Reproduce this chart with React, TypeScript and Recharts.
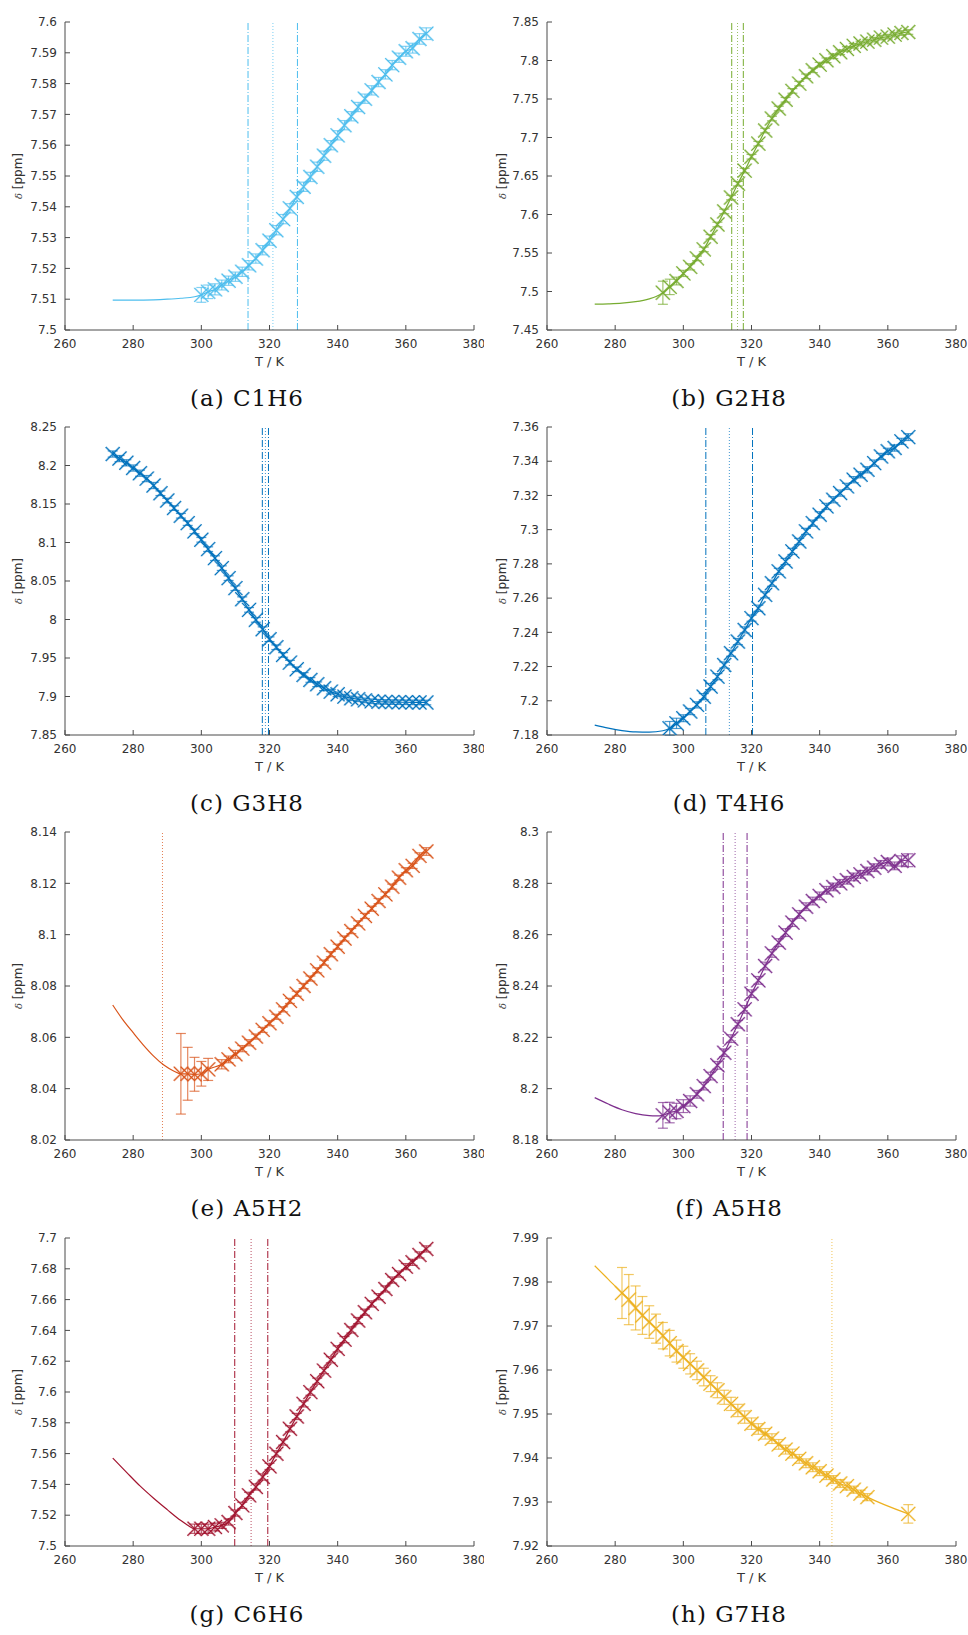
import React from 'react';
import { ComposedChart, Line, Scatter, XAxis, YAxis, ErrorBar, ReferenceLine } from 'recharts';

const xTicks = [260, 280, 300, 320, 340, 360, 380];

// (a) C1H6
const c1h6Temps = [300, 302, 304, 306, 308, 310, 312, 314, 316, 318, 320, 322, 324, 326, 328, 330, 332, 334, 336, 338, 340, 342, 344, 346, 348, 350, 352, 354, 356, 358, 360, 362, 364, 366];
const c1h6Shift = [7.5114, 7.5124, 7.5132, 7.5146, 7.516, 7.5173, 7.5189, 7.521, 7.5232, 7.5259, 7.529, 7.5324, 7.536, 7.5395, 7.5432, 7.5465, 7.5497, 7.553, 7.5566, 7.56, 7.5632, 7.5665, 7.5694, 7.5724, 7.5751, 7.5778, 7.5805, 7.583, 7.586, 7.5884, 7.5905, 7.5915, 7.5945, 7.5962];
const c1h6Err = [0.0024, 0.0022, 0.0018, 0.0016, 0.0015, 0.0015, 0.0015, 0.0015, 0.0015, 0.0015, 0.0015, 0.0015, 0.0015, 0.0015, 0.0015, 0.0015, 0.0015, 0.0015, 0.0015, 0.0015, 0.0015, 0.0015, 0.0015, 0.0015, 0.0015, 0.0015, 0.0015, 0.0015, 0.0015, 0.0015, 0.0016, 0.0016, 0.0017, 0.0019];
const c1h6FitTemps = [274, 280, 286, 290, 294, 298];
const c1h6FitShift = [7.5097, 7.5097, 7.5098, 7.51, 7.5103, 7.5108];
const c1h6YTicks = [7.5, 7.51, 7.52, 7.53, 7.54, 7.55, 7.56, 7.57, 7.58, 7.59, 7.6];
const c1h6Tm = [313.7, 321.0, 328.2];

// (b) G2H8
const g2h8Temps = [294, 296, 298, 300, 302, 304, 306, 308, 310, 312, 314, 316, 318, 320, 322, 324, 326, 328, 330, 332, 334, 336, 338, 340, 342, 344, 346, 348, 350, 352, 354, 356, 358, 360, 362, 364, 366];
const g2h8Shift = [7.4984, 7.506, 7.5136, 7.5235, 7.532, 7.543, 7.5547, 7.571, 7.587, 7.604, 7.622, 7.64, 7.657, 7.675, 7.692, 7.709, 7.7246, 7.7376, 7.749, 7.7605, 7.77, 7.7795, 7.7873, 7.7946, 7.8003, 7.8055, 7.8107, 7.815, 7.819, 7.822, 7.8245, 7.827, 7.8297, 7.831, 7.8336, 7.8357, 7.837];
const g2h8Err = [0.015, 0.01, 0.005, 0.004, 0.004, 0.003, 0.003, 0.003, 0.003, 0.003, 0.003, 0.003, 0.003, 0.003, 0.003, 0.003, 0.003, 0.003, 0.003, 0.003, 0.003, 0.003, 0.003, 0.003, 0.003, 0.003, 0.003, 0.003, 0.003, 0.003, 0.003, 0.003, 0.003, 0.003, 0.003, 0.003, 0.003];
const g2h8FitTemps = [274, 278, 282, 286, 290, 292];
const g2h8FitShift = [7.4837, 7.484, 7.4848, 7.4868, 7.4905, 7.4935];
const g2h8YTicks = [7.45, 7.5, 7.55, 7.6, 7.65, 7.7, 7.75, 7.8, 7.85];
const g2h8Tm = [314.2, 315.9, 317.6];

// (c) G3H8
const g3h8Temps = [274, 276, 278, 280, 282, 284, 286, 288, 290, 292, 294, 296, 298, 300, 302, 304, 306, 308, 310, 312, 314, 316, 318, 320, 322, 324, 326, 328, 330, 332, 334, 336, 338, 340, 342, 344, 346, 348, 350, 352, 354, 356, 358, 360, 362, 364, 366];
const g3h8Shift = [8.2149, 8.209, 8.2035, 8.1967, 8.19, 8.183, 8.174, 8.164, 8.1545, 8.1447, 8.1347, 8.1252, 8.1144, 8.1035, 8.0914, 8.0797, 8.0667, 8.0537, 8.0407, 8.0264, 8.0125, 7.9995, 7.9874, 7.9744, 7.964, 7.954, 7.944, 7.9354, 7.928, 7.9215, 7.9159, 7.9107, 7.9063, 7.9029, 7.8998, 7.8977, 7.8964, 7.895, 7.8938, 7.8932, 7.8929, 7.8927, 7.8926, 7.8925, 7.8924, 7.8923, 7.8922];
const g3h8Err = [0.004, 0.004, 0.004, 0.004, 0.004, 0.004, 0.004, 0.003, 0.003, 0.003, 0.003, 0.003, 0.003, 0.003, 0.003, 0.003, 0.003, 0.003, 0.003, 0.003, 0.003, 0.003, 0.003, 0.003, 0.003, 0.003, 0.003, 0.003, 0.003, 0.003, 0.003, 0.003, 0.003, 0.003, 0.003, 0.003, 0.003, 0.003, 0.003, 0.003, 0.003, 0.003, 0.003, 0.003, 0.003, 0.003, 0.003];
const g3h8FitTemps: number[] = [];
const g3h8FitShift: number[] = [];
const g3h8YTicks = [7.85, 7.9, 7.95, 8, 8.05, 8.1, 8.15, 8.2, 8.25];
const g3h8Tm = [317.9, 318.8, 319.7];

// (d) T4H6
const t4h6Temps = [296, 298, 300, 302, 304, 306, 308, 310, 312, 314, 316, 318, 320, 322, 324, 326, 328, 330, 332, 334, 336, 338, 340, 342, 344, 346, 348, 350, 352, 354, 356, 358, 360, 362, 364, 366];
const t4h6Shift = [7.1839, 7.1868, 7.1898, 7.1937, 7.1976, 7.2024, 7.2083, 7.2141, 7.2209, 7.2278, 7.2346, 7.2414, 7.2483, 7.2541, 7.2619, 7.2687, 7.2756, 7.2814, 7.2873, 7.2931, 7.299, 7.3038, 7.3087, 7.3136, 7.3175, 7.3214, 7.3253, 7.3292, 7.3321, 7.335, 7.3389, 7.3428, 7.3458, 7.3477, 7.3516, 7.3541];
const t4h6Err = [0.004, 0.003, 0.002, 0.0018, 0.0018, 0.0018, 0.0018, 0.0018, 0.0018, 0.0018, 0.0018, 0.0018, 0.0018, 0.0018, 0.0018, 0.0018, 0.0018, 0.0018, 0.0018, 0.0018, 0.0018, 0.0018, 0.0018, 0.0018, 0.0018, 0.0018, 0.0018, 0.0018, 0.0018, 0.0018, 0.0018, 0.0018, 0.0018, 0.0018, 0.0018, 0.002];
const t4h6FitTemps = [274, 278, 282, 286, 290, 294];
const t4h6FitShift = [7.1858, 7.184, 7.1826, 7.1818, 7.1817, 7.1825];
const t4h6YTicks = [7.18, 7.2, 7.22, 7.24, 7.26, 7.28, 7.3, 7.32, 7.34, 7.36];
const t4h6Tm = [306.6, 313.5, 320.3];

// (e) A5H2
const a5h2Temps = [294, 296, 298, 300, 302, 306, 308, 310, 312, 314, 316, 318, 320, 322, 324, 326, 328, 330, 332, 334, 336, 338, 340, 342, 344, 346, 348, 350, 352, 354, 356, 358, 360, 362, 364, 366];
const a5h2Shift = [8.0458, 8.0458, 8.0456, 8.0458, 8.0475, 8.0495, 8.0514, 8.0534, 8.0556, 8.0579, 8.0603, 8.0629, 8.0655, 8.068, 8.0709, 8.0742, 8.077, 8.08, 8.0829, 8.0861, 8.0891, 8.0924, 8.0953, 8.0985, 8.1014, 8.1044, 8.1073, 8.1101, 8.1131, 8.1157, 8.1187, 8.1222, 8.1251, 8.1268, 8.1307, 8.1324];
const a5h2Err = [0.0157, 0.0103, 0.0066, 0.0048, 0.0043, 0.0018, 0.0013, 0.0015, 0.0012, 0.0012, 0.001, 0.001, 0.001, 0.001, 0.001, 0.001, 0.001, 0.001, 0.001, 0.001, 0.001, 0.001, 0.001, 0.001, 0.001, 0.001, 0.001, 0.001, 0.001, 0.001, 0.001, 0.001, 0.001, 0.001, 0.0012, 0.0015];
const a5h2FitTemps = [274, 277, 280, 283, 286, 289, 292];
const a5h2FitShift = [8.0726, 8.0668, 8.0618, 8.057, 8.0527, 8.0492, 8.0468];
const a5h2YTicks = [8.02, 8.04, 8.06, 8.08, 8.1, 8.12, 8.14];
const a5h2Tm = [288.6];

// (f) A5H8
const a5h8Temps = [294, 296, 298, 300, 302, 304, 306, 308, 310, 312, 314, 316, 318, 320, 322, 324, 326, 328, 330, 332, 334, 336, 338, 340, 342, 344, 346, 348, 350, 352, 354, 356, 358, 360, 362, 364, 366];
const a5h8Shift = [8.1896, 8.1907, 8.1913, 8.1932, 8.1952, 8.1978, 8.201, 8.2049, 8.2091, 8.214, 8.2195, 8.2251, 8.2309, 8.237, 8.2422, 8.2478, 8.2527, 8.2569, 8.2608, 8.2647, 8.2679, 8.2709, 8.2731, 8.2751, 8.2773, 8.2786, 8.28, 8.2812, 8.2825, 8.2835, 8.2848, 8.2861, 8.2874, 8.2883, 8.2868, 8.2887, 8.289];
const a5h8Err = [0.005, 0.004, 0.003, 0.0025, 0.002, 0.0015, 0.0015, 0.0015, 0.0015, 0.0015, 0.0015, 0.0015, 0.0015, 0.0015, 0.0015, 0.0015, 0.0015, 0.0015, 0.0015, 0.0015, 0.0015, 0.0015, 0.0015, 0.0015, 0.0015, 0.0015, 0.0015, 0.0015, 0.0015, 0.0015, 0.0015, 0.0015, 0.0015, 0.0015, 0.0015, 0.002, 0.0025];
const a5h8FitTemps = [274, 278, 282, 286, 290, 292];
const a5h8FitShift = [8.1965, 8.194, 8.1918, 8.1903, 8.1895, 8.1894];
const a5h8YTicks = [8.18, 8.2, 8.22, 8.24, 8.26, 8.28, 8.3];
const a5h8Tm = [311.7, 315.2, 318.7];

// (g) C6H6
const c6h6Temps = [298, 300, 302, 304, 306, 308, 310, 312, 314, 316, 318, 320, 322, 324, 326, 328, 330, 332, 334, 336, 338, 340, 342, 344, 346, 348, 350, 352, 354, 356, 358, 360, 362, 364, 366];
const c6h6Shift = [7.5112, 7.5112, 7.5112, 7.5123, 7.5134, 7.5156, 7.5214, 7.5264, 7.5329, 7.5383, 7.5448, 7.5517, 7.5599, 7.5675, 7.5761, 7.5841, 7.5923, 7.5999, 7.607, 7.6139, 7.6209, 7.628, 7.634, 7.6403, 7.6464, 7.6518, 7.6572, 7.6619, 7.6669, 7.6727, 7.6766, 7.6814, 7.6842, 7.689, 7.6929];
const c6h6Err = [0.003, 0.003, 0.003, 0.0025, 0.002, 0.002, 0.002, 0.002, 0.002, 0.002, 0.002, 0.002, 0.002, 0.002, 0.002, 0.002, 0.002, 0.002, 0.002, 0.002, 0.002, 0.002, 0.002, 0.002, 0.002, 0.002, 0.002, 0.002, 0.002, 0.002, 0.002, 0.002, 0.002, 0.002, 0.002];
const c6h6FitTemps = [274, 278, 282, 286, 290, 294, 296];
const c6h6FitShift = [7.5571, 7.548, 7.539, 7.531, 7.5236, 7.5165, 7.5135];
const c6h6YTicks = [7.5, 7.52, 7.54, 7.56, 7.58, 7.6, 7.62, 7.64, 7.66, 7.68, 7.7];
const c6h6Tm = [309.8, 314.6, 319.5];

// (h) G7H8
const g7h8Temps = [282, 284, 286, 288, 290, 292, 294, 296, 298, 300, 302, 304, 306, 308, 310, 312, 314, 316, 318, 320, 322, 324, 326, 328, 330, 332, 334, 336, 338, 340, 342, 344, 346, 348, 350, 352, 354, 366];
const g7h8Shift = [7.9775, 7.976, 7.9741, 7.9724, 7.9709, 7.9694, 7.9678, 7.9661, 7.9643, 7.9629, 7.9614, 7.9599, 7.9584, 7.9569, 7.9554, 7.9538, 7.9523, 7.9508, 7.9493, 7.9478, 7.9466, 7.9455, 7.9444, 7.9431, 7.9419, 7.941, 7.9398, 7.9388, 7.9379, 7.937, 7.936, 7.9351, 7.9342, 7.9336, 7.9328, 7.9319, 7.9311, 7.9273];
const g7h8Err = [0.0058, 0.0057, 0.005, 0.0043, 0.0037, 0.0033, 0.003, 0.0029, 0.0025, 0.0025, 0.0023, 0.0021, 0.002, 0.0018, 0.0017, 0.0016, 0.0015, 0.0014, 0.0014, 0.0013, 0.0012, 0.0012, 0.0011, 0.0011, 0.001, 0.001, 0.001, 0.001, 0.001, 0.001, 0.0009, 0.0009, 0.0009, 0.0009, 0.0008, 0.0008, 0.0008, 0.0021];
const g7h8FitTemps = [274, 278];
const g7h8FitShift = [7.9837, 7.9806];
const g7h8YTicks = [7.92, 7.93, 7.94, 7.95, 7.96, 7.97, 7.98, 7.99];
const g7h8Tm = [343.6];

const panels = [
  { tag: '(a)', name: 'C1H6', color: '#4DBEEE', temps: c1h6Temps, shift: c1h6Shift, err: c1h6Err, fitT: c1h6FitTemps, fitV: c1h6FitShift, yTicks: c1h6YTicks, tm: c1h6Tm },
  { tag: '(b)', name: 'G2H8', color: '#77AC30', temps: g2h8Temps, shift: g2h8Shift, err: g2h8Err, fitT: g2h8FitTemps, fitV: g2h8FitShift, yTicks: g2h8YTicks, tm: g2h8Tm },
  { tag: '(c)', name: 'G3H8', color: '#0072BD', temps: g3h8Temps, shift: g3h8Shift, err: g3h8Err, fitT: g3h8FitTemps, fitV: g3h8FitShift, yTicks: g3h8YTicks, tm: g3h8Tm },
  { tag: '(d)', name: 'T4H6', color: '#0072BD', temps: t4h6Temps, shift: t4h6Shift, err: t4h6Err, fitT: t4h6FitTemps, fitV: t4h6FitShift, yTicks: t4h6YTicks, tm: t4h6Tm },
  { tag: '(e)', name: 'A5H2', color: '#D95319', temps: a5h2Temps, shift: a5h2Shift, err: a5h2Err, fitT: a5h2FitTemps, fitV: a5h2FitShift, yTicks: a5h2YTicks, tm: a5h2Tm },
  { tag: '(f)', name: 'A5H8', color: '#7E2F8E', temps: a5h8Temps, shift: a5h8Shift, err: a5h8Err, fitT: a5h8FitTemps, fitV: a5h8FitShift, yTicks: a5h8YTicks, tm: a5h8Tm },
  { tag: '(g)', name: 'C6H6', color: '#A2142F', temps: c6h6Temps, shift: c6h6Shift, err: c6h6Err, fitT: c6h6FitTemps, fitV: c6h6FitShift, yTicks: c6h6YTicks, tm: c6h6Tm },
  { tag: '(h)', name: 'G7H8', color: '#EDB120', temps: g7h8Temps, shift: g7h8Shift, err: g7h8Err, fitT: g7h8FitTemps, fitV: g7h8FitShift, yTicks: g7h8YTicks, tm: g7h8Tm },
];

const FONT = '"DejaVu Sans", Verdana, sans-serif';
const AXIS = '#4a4a4a';
const TEXT = '#333';
const PLOT_W = 409;
const PLOT_H = 308;

const fmt = (v: number) => String(parseFloat(v.toFixed(3)));

// x-shaped point marker, drawn twice (pale + full) like the source plot
const makeCross = (color: string) => (props: any) => {
  const { cx, cy } = props;
  if (typeof cx !== 'number' || typeof cy !== 'number') return <g />;
  const s = 7;
  const d = `M${cx - s},${cy - s}L${cx + s},${cy + s}M${cx - s},${cy + s}L${cx + s},${cy - s}`;
  return (
    <g>
      <path d={d} stroke={color} strokeOpacity={0.5} strokeWidth={2} fill="none" />
      <path d={d} stroke={color} strokeWidth={1} fill="none" />
    </g>
  );
};

type PanelDef = (typeof panels)[number];

function Panel({ p, col, row }: { p: PanelDef; col: number; row: number }) {
  const plotLeft = col === 0 ? 65 : 63;
  const top = Math.round(row * 405.2);
  const pts = p.temps.map((t, i) => ({ T: t, v: p.shift[i], e: p.err[i] }));
  const fit = p.fitT.map((t, i) => ({ T: t, v: p.fitV[i] })).concat(pts.map((d) => ({ T: d.T, v: d.v })));
  const yDomain = [p.yTicks[0], p.yTicks[p.yTicks.length - 1]];
  const midX = plotLeft + PLOT_W / 2;
  const midY = 22 + PLOT_H / 2;
  const tickStyle = { fill: TEXT, fontSize: 12, fontFamily: FONT };

  return (
    <div style={{ position: 'absolute', left: col * 484, top, width: 484, height: 440 }}>
      <ComposedChart
        width={484}
        height={380}
        margin={{ top: 22, right: 484 - plotLeft - PLOT_W, bottom: 10, left: 0 }}
      >
        <XAxis
          xAxisId="b"
          type="number"
          dataKey="T"
          domain={[260, 380]}
          allowDataOverflow
          ticks={xTicks}
          height={40}
          stroke={AXIS}
          tickSize={-5}
          tickMargin={14}
          tick={tickStyle}
          label={{
            content: () => (
              <text x={midX} y={366} textAnchor="middle" fontSize={13} fontFamily={FONT} fill={TEXT}>
                T / K
              </text>
            ),
          }}
        />
        <XAxis
          xAxisId="t"
          orientation="top"
          type="number"
          dataKey="T"
          domain={[260, 380]}
          allowDataOverflow
          ticks={xTicks}
          height={0}
          stroke={AXIS}
          tickSize={-5}
          tick={false}
        />
        <YAxis
          yAxisId="l"
          type="number"
          domain={yDomain}
          allowDataOverflow
          ticks={p.yTicks}
          width={plotLeft}
          stroke={AXIS}
          tickSize={-5}
          tickMargin={13}
          tick={tickStyle}
          tickFormatter={fmt}
          interval={0}
          label={{
            content: () => (
              <text
                x={18}
                y={midY}
                transform={`rotate(-90 18 ${midY})`}
                textAnchor="middle"
                dominantBaseline="central"
                fontSize={12}
                fontFamily={FONT}
                fill={TEXT}
              >
                <tspan fontStyle="italic" fontFamily="DejaVu Serif" fontSize={10}>δ</tspan> [ppm]
              </text>
            ),
          }}
        />
        <YAxis
          yAxisId="r"
          orientation="right"
          type="number"
          domain={yDomain}
          allowDataOverflow
          ticks={p.yTicks}
          width={0}
          stroke={AXIS}
          tickSize={-5}
          tick={false}
          interval={0}
        />
        {p.tm.map((x, i) => (
          <ReferenceLine
            key={i}
            xAxisId="b"
            yAxisId="l"
            x={x}
            stroke={p.color}
            strokeWidth={1}
            strokeOpacity={p.tm.length === 3 && i !== 1 ? 1 : 0.75}
            strokeDasharray={p.tm.length === 3 && i !== 1 ? '7 2 1 2' : '1 2'}
          />
        ))}
        <Scatter
          xAxisId="b"
          yAxisId="l"
          data={pts}
          dataKey="v"
          shape={makeCross(p.color)}
          isAnimationActive={false}
        >
          <ErrorBar dataKey="e" direction="y" width={5} stroke={p.color} strokeOpacity={0.7} strokeWidth={1.2} />
        </Scatter>
        <Line
          xAxisId="b"
          yAxisId="l"
          data={fit}
          dataKey="v"
          type="monotone"
          stroke={p.color}
          strokeWidth={1.2}
          dot={false}
          activeDot={false}
          isAnimationActive={false}
        />
      </ComposedChart>
      <div
        style={{
          position: 'absolute',
          left: (col === 0 ? 247 : 245) - 150,
          top: 387,
          width: 300,
          textAlign: 'center',
          fontFamily: '"DejaVu Serif", "Liberation Serif", serif',
          fontSize: 23,
          lineHeight: '23px',
          letterSpacing: 1,
          color: '#111',
          whiteSpace: 'nowrap',
        }}
      >
        {p.tag} {p.name}
      </div>
    </div>
  );
}

export default function App() {
  return (
    <div style={{ position: 'absolute', left: 0, top: 0, width: 968, height: 1635, background: '#fff' }}>
      {panels.map((p, i) => (
        <Panel key={p.name} p={p} col={i % 2} row={Math.floor(i / 2)} />
      ))}
    </div>
  );
}
